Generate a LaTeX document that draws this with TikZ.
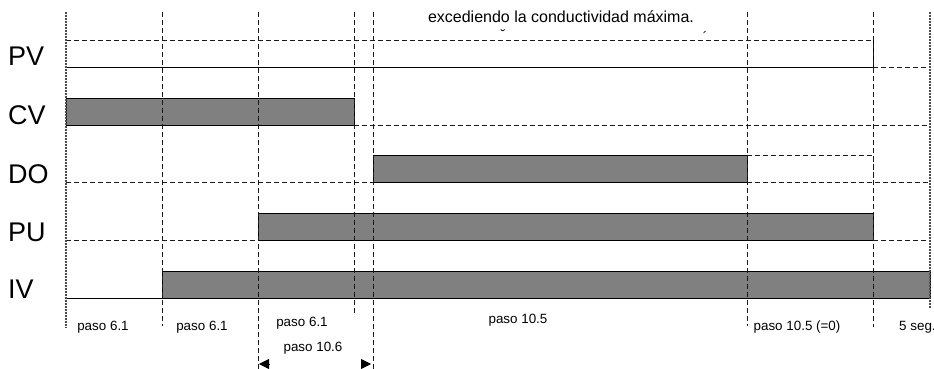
\documentclass[tikz,border=0pt]{standalone}
\usepackage{fontspec}
\setmainfont{Liberation Sans}
\usepackage{xcolor}
\usetikzlibrary{calc,arrows.meta,positioning}
\definecolor{barc}{HTML}{808080}
\definecolor{linec}{HTML}{1A1A1A}
\tikzset{
  bar/.style={draw=black,line width=0.9pt,fill=barc},
  gl/.style={dash pattern=on 5pt off 3pt,line width=0.8pt,linec},
  edge/.style={dash pattern=on 2pt off 1pt,line width=1.5pt,black!70},
  sig/.style={font=\fontsize{27}{27}\selectfont,anchor=base west,inner sep=0pt},
  lab/.style={font=\fontsize{13.4}{14}\selectfont,inner sep=0pt},
  tip/.style={-{Triangle[length=10pt,width=10pt]},line width=0.8pt}
}
\begin{document}
\begin{tikzpicture}[x=1pt,y=-1pt]
\useasboundingbox (0,0) rectangle (934,369);
% signal bars
\draw[bar] (66,98) rectangle (354,125);
\draw[bar] (373,155) rectangle (747,182);
\draw[bar] (258,213) rectangle (873,240);
\draw[bar] (162,271) rectangle (930,298);
% baselines and idle levels
\draw[gl] (66,40)--(873,40);
\draw[line width=0.9pt] (66,67)--(873,67)--(873,40);
\draw[gl] (873,67)--(930,67);
\draw[gl] (354,125)--(930,125);
\draw[gl] (66,182)--(373,182);
\draw[gl] (747,155)--(873,155)--(873,182);
\draw[gl] (747,182)--(930,182);
\draw[gl] (66,240)--(258,240);
\draw[gl] (873,240)--(930,240);
\draw[line width=0.9pt] (66,298)--(162,298);
% time marks
\foreach \x/\b in {162/326,258/369,354/316,373/369,747/326,873/327}{\draw[gl] (\x,12)--(\x,\b);}
\draw[edge] (66,12)--(66,328);
\draw[edge] (930,12)--(930,308);
% signal names
\node[sig] (pv) at (8,66) {PV};
\node[sig] (cv) at (8,124) {CV};
\node[sig] (do) at (8,183) {DO};
\node[sig] (pu) at (8,241) {PU};
\node[sig] (iv) at (8,298) {IV};
% texts
\node[lab,font=\fontsize{16}{17}\selectfont] (title) at (561,17) {excediendo la conductividad máxima.};
\node[lab] at (503,35) {˘};
\node[lab] at (705,37) {´};
\node[lab] (s1) at (103,327) {paso 6.1};
\node[lab] (s2) at (202,327) {paso 6.1};
\node[lab] (s3) at (302,323) {paso 6.1};
\node[lab] (s4) at (518,320) {paso 10.5};
\node[lab] (s5) at (797,327) {paso 10.5 (=0)};
\node[lab,anchor=west] (s6) at (899,327) {5 seg.};
\node[lab] (s7) at (313,348) {paso 10.6};
% paso 10.6 span
\coordinate (ta) at (259,364);
\coordinate (tb) at (371,364);
\draw[tip] ($(ta)+(10,0)$)--(ta);
\draw[tip] ($(tb)+(-10,0)$)--(tb);
\end{tikzpicture}
\end{document}
